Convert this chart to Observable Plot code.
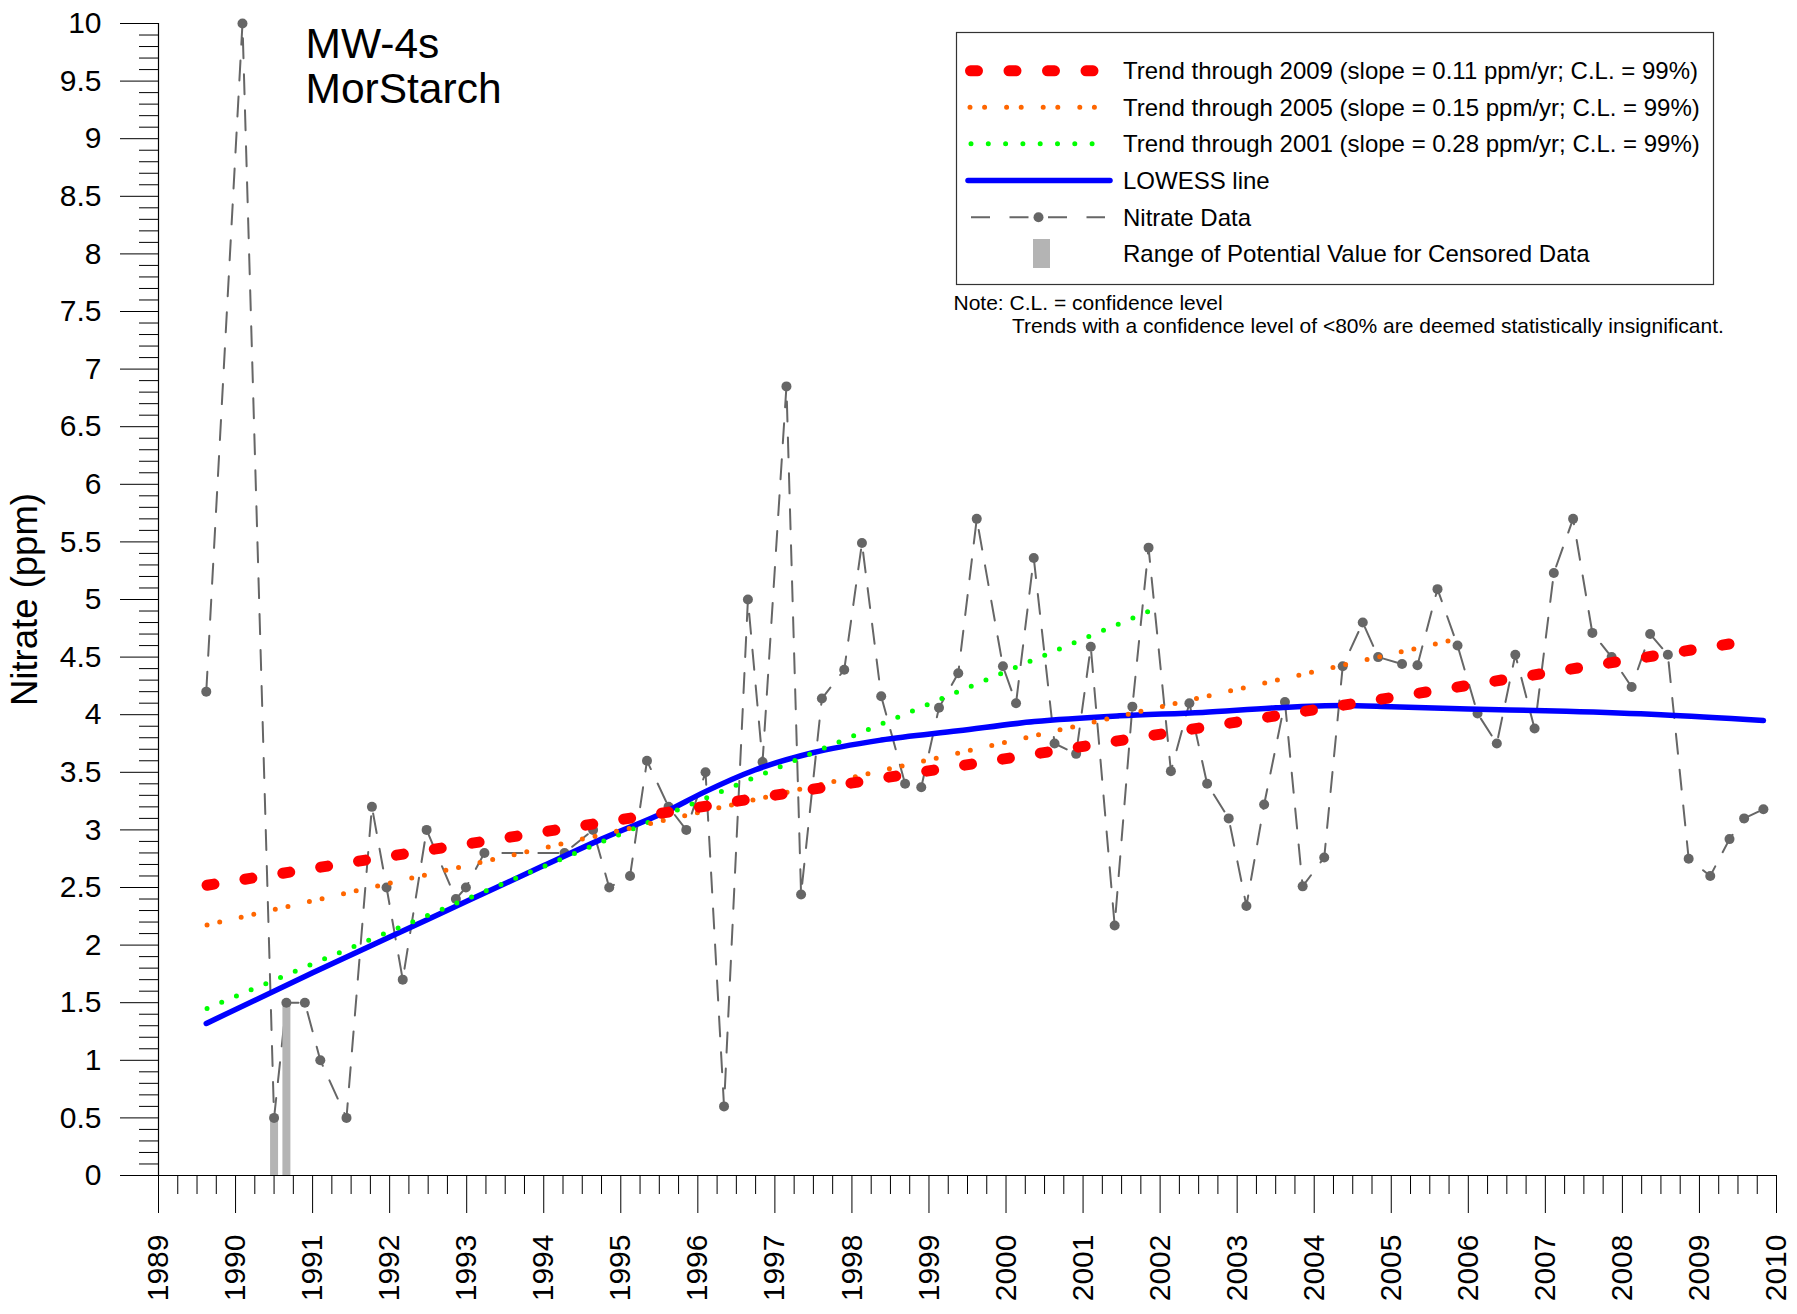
<!DOCTYPE html>
<html>
<head>
<meta charset="utf-8">
<script src="https://cdn.jsdelivr.net/npm/d3@7"></script>
<script src="https://cdn.jsdelivr.net/npm/@observablehq/plot@0.6"></script>
<style>
  html, body { margin: 0; padding: 0; background: #fff; }
  #wrap { position: relative; width: 1797px; height: 1314px; font-family: "Liberation Sans", Arial, sans-serif; }
  #wrap svg { position: absolute; left: 0; top: 0; }
</style>
</head>
<body>
<div id="wrap"></div>
<script>
// ---- Data ----
const sampleYears = [1989.62, 1990.09, 1990.50, 1990.66, 1990.90, 1991.10, 1991.44, 1991.77, 1991.96, 1992.17,
  1992.48, 1992.86, 1992.99, 1993.23, 1994.27, 1994.64, 1994.85, 1995.12, 1995.34, 1995.62,
  1995.85, 1996.10, 1996.34, 1996.65, 1996.84, 1997.15, 1997.34, 1997.61, 1997.90, 1998.13,
  1998.38, 1998.69, 1998.90, 1999.13, 1999.38, 1999.62, 1999.96, 2000.13, 2000.36, 2000.63,
  2000.91, 2001.10, 2001.41, 2001.64, 2001.85, 2002.14, 2002.38, 2002.61, 2002.89, 2003.12,
  2003.35, 2003.62, 2003.85, 2004.13, 2004.37, 2004.63, 2004.83, 2005.14, 2005.34, 2005.60,
  2005.86, 2006.12, 2006.37, 2006.61, 2006.86, 2007.11, 2007.36, 2007.61, 2007.86, 2008.12,
  2008.36, 2008.59, 2008.86, 2009.14, 2009.39, 2009.58, 2009.83];
const nitrateValues = [4.20, 10.0, 0.5, 1.5, 1.5, 1.0, 0.5, 3.2, 2.5, 1.7,
  3.0, 2.4, 2.5, 2.8, 2.8, 3.0, 2.5, 2.6, 3.6, 3.2,
  3.0, 3.5, 0.6, 5.0, 3.59, 6.85, 2.44, 4.14, 4.39, 5.49,
  4.16, 3.40, 3.37, 4.06, 4.36, 5.70, 4.42, 4.10, 5.36, 3.75,
  3.66, 4.59, 2.17, 4.07, 5.45, 3.51, 4.10, 3.40, 3.10, 2.34,
  3.22, 4.11, 2.51, 2.76, 4.42, 4.80, 4.50, 4.44, 4.43, 5.09,
  4.60, 4.01, 3.75, 4.52, 3.88, 5.23, 5.70, 4.71, 4.50, 4.24,
  4.70, 4.52, 2.75, 2.60, 2.92, 3.10, 3.18];

const censoredYears = [1990.50, 1990.66];
const censoredUpper = [0.5, 1.5];

const trend2009Years = [1989.63, 2009.40];
const trend2009Values = [2.52, 4.615];
const trend2005Years = [1989.63, 2005.84];
const trend2005Values = [2.175, 4.655];
const trend2001Years = [1989.63, 2001.86];
const trend2001Values = [1.45, 4.90];

const lowessYears = [1989.62, 1991.0, 1992.0, 1993.0, 1994.0, 1994.75, 1995.59, 1996.09, 1996.74, 1997.49,
  1998.38, 1999.38, 2000.37, 2001.47, 2002.55, 2003.5, 2004.37, 2005.0, 2006.0, 2007.27, 2008.5, 2009.83];
const lowessValues = [1.32, 1.76, 2.07, 2.38, 2.69, 2.92, 3.16, 3.33, 3.52, 3.67,
  3.78, 3.86, 3.94, 3.99, 4.02, 4.06, 4.08, 4.07, 4.05, 4.03, 4.00, 3.95];

const xMajorTicks = d3.range(1989, 2011);
const xMinorTicks = d3.range(0, 84).filter(i => i % 4 !== 0).map(i => 1989 + i / 4);
const yMajorTicks = d3.range(0, 21).map(i => i / 2);
const yMinorTicks = d3.range(0, 101).filter(i => i % 5 !== 0).map(i => i / 10);

const titleLines = ["MW-4s", "MorStarch"];
const yLabel = "Nitrate (ppm)";
const legendLabels = [
  "Trend through 2009 (slope = 0.11 ppm/yr; C.L. = 99%)",
  "Trend through 2005 (slope = 0.15 ppm/yr; C.L. = 99%)",
  "Trend through 2001 (slope = 0.28 ppm/yr; C.L. = 99%)",
  "LOWESS line",
  "Nitrate Data",
  "Range of Potential Value for Censored Data"
];
const noteLines = [
  "Note: C.L. = confidence level",
  "Trends with a confidence level of <80% are deemed statistically insignificant."
];

// ---- Tables built from the arrays ----
const samples = sampleYears.map((x, i) => ({x, y: nitrateValues[i]}));
const censored = censoredYears.map((x, i) => ({x, y: censoredUpper[i]}));
const pairs = (xs, ys) => xs.map((x, i) => ({x, y: ys[i]}));
const t2009 = pairs(trend2009Years, trend2009Values);
const t2005 = pairs(trend2005Years, trend2005Values);
const t2001 = pairs(trend2001Years, trend2001Values);
const lowess = pairs(lowessYears, lowessValues);

const FONT = "'Liberation Sans', Arial, Helvetica, sans-serif";
const RED = "#ff0000", ORANGE = "#ff6600", GREEN = "#00ff00", BLUE = "#0000ff", GRAY = "#666666", BAR = "#b4b4b4";

const chart = Plot.plot({
  width: 1797,
  height: 1314,
  marginLeft: 158,
  marginRight: 21,
  marginTop: 23,
  marginBottom: 139,
  style: {fontFamily: FONT, fontSize: "30px", color: "#000", background: "#fff", overflow: "visible"},
  x: {domain: [1989, 2010], label: null},
  y: {domain: [0, 10], label: null},
  marks: [
    Plot.axisY(yMinorTicks, {tickSize: 19, tickFormat: () => "", label: null, strokeWidth: 1}),
    Plot.axisY(yMajorTicks, {tickSize: 38, tickPadding: 19, tickFormat: d => String(d), label: null, fontSize: 30, strokeWidth: 1}),
    Plot.axisX(xMinorTicks, {tickSize: 19, tickFormat: () => "", label: null, strokeWidth: 1}),
    Plot.axisX(xMajorTicks, {tickSize: 38, tickPadding: 21, tickRotate: -90, tickFormat: d => String(d), label: null, fontSize: 30, strokeWidth: 1}),
    Plot.ruleX([1989], {y1: 0, y2: 10, stroke: "#000", strokeWidth: 1.2}),
    Plot.ruleY([0], {x1: 1989, x2: 2010, stroke: "#000", strokeWidth: 1.2}),
    Plot.line(samples, {x: "x", y: "y", stroke: GRAY, strokeWidth: 2, strokeDasharray: "20,16"}),
    Plot.ruleX(censored, {x: "x", y1: 0, y2: "y", stroke: BAR, strokeWidth: 8}),
    Plot.dot(samples, {x: "x", y: "y", r: 5, fill: GRAY, stroke: "none"}),
    Plot.line(lowess, {x: "x", y: "y", stroke: BLUE, strokeWidth: 5.5, curve: "monotone-x", strokeLinecap: "round"}),
    Plot.line(t2001, {x: "x", y: "y", stroke: GREEN, strokeWidth: 5, strokeDasharray: "0,15.95", strokeLinecap: "round"}),
    Plot.line(t2005, {x: "x", y: "y", stroke: ORANGE, strokeWidth: 5, strokeDasharray: "0,13,0,22", strokeLinecap: "round"}),
    Plot.line(t2009, {x: "x", y: "y", stroke: RED, strokeWidth: 11, strokeDasharray: "7,31.35", strokeLinecap: "round"}),
    Plot.text([titleLines.join("\n")], {frameAnchor: "top-left", dx: 147, dy: 2, textAnchor: "start", lineAnchor: "top", lineHeight: 1.07, fontSize: 42.5, fill: "#000"}),
    Plot.text([yLabel], {frameAnchor: "left", dx: -133, rotate: -90, textAnchor: "middle", lineAnchor: "middle", fontSize: 36.5, fill: "#000"})
  ]
});
document.getElementById("wrap").appendChild(chart);

// ---- Legend box and note (overlay) ----
const leg = d3.select("#wrap").append("svg")
  .attr("width", 1797).attr("height", 1314)
  .style("pointer-events", "none")
  .attr("font-family", FONT);

leg.append("rect").attr("x", 956.5).attr("y", 32.5).attr("width", 757).attr("height", 252)
  .attr("fill", "#fff").attr("stroke", "#333").attr("stroke-width", 1.2);

const rowY = [70.8, 107.3, 143.8, 180.5, 217.2, 253.5];
const swatch = [
  g => g.append("line").attr("x1", 970.5).attr("x2", 1094).attr("stroke", RED).attr("stroke-width", 11).attr("stroke-dasharray", "7,31.5").attr("stroke-linecap", "round"),
  g => g.append("line").attr("x1", 970).attr("x2", 1096).attr("stroke", ORANGE).attr("stroke-width", 5).attr("stroke-dasharray", "0,14.6,0,22").attr("stroke-linecap", "round"),
  g => g.append("line").attr("x1", 971).attr("x2", 1094).attr("stroke", GREEN).attr("stroke-width", 5).attr("stroke-dasharray", "0,17.3").attr("stroke-linecap", "round"),
  g => g.append("line").attr("x1", 968).attr("x2", 1110).attr("stroke", BLUE).attr("stroke-width", 5.5).attr("stroke-linecap", "round"),
  g => { g.append("line").attr("x1", 971).attr("x2", 1105).attr("stroke", GRAY).attr("stroke-width", 2).attr("stroke-dasharray", "19,19.5");
         g.append("circle").attr("cx", 1038.5).attr("r", 5).attr("fill", GRAY); },
  g => g.append("rect").attr("x", 1033).attr("y", -14.5).attr("width", 17).attr("height", 29).attr("fill", BAR)
];
legendLabels.forEach((label, i) => {
  const g = leg.append("g").attr("transform", `translate(0,${rowY[i]})`);
  swatch[i](g);
  g.append("text").attr("x", 1123).attr("y", 8.6).attr("font-size", 24).attr("fill", "#000").text(label);
});

leg.append("text").attr("x", 953.5).attr("y", 309.5).attr("font-size", 21).attr("fill", "#000").text(noteLines[0]);
leg.append("text").attr("x", 1012).attr("y", 333).attr("font-size", 21).attr("fill", "#000").text(noteLines[1]);
</script>
</body>
</html>
